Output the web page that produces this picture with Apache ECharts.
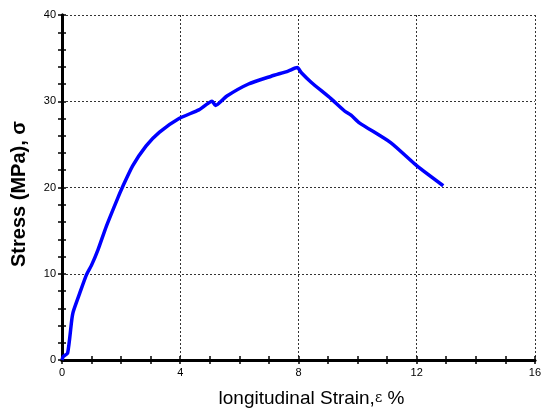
<!DOCTYPE html>
<html><head><meta charset="utf-8">
<script src="https://cdn.jsdelivr.net/npm/echarts@6/dist/echarts.min.js"></script>
<style>html,body{margin:0;padding:0;background:#fff}#c{width:544px;height:415px}</style>
</head><body><div id="c"></div>
<script>
const strain = [0, 0.04, 0.19, 0.33, 0.38, 0.6, 0.83, 1.0, 1.22, 1.5, 1.89, 2.04, 2.39, 2.84, 3.29, 3.96, 4.63, 5.08, 5.19, 5.58, 6.31, 7.08, 7.65, 7.96, 8.1, 8.43, 9.1, 9.55, 9.78, 10.06, 11.12, 12.01, 12.9];
const stress = [0, 0.4, 0.8, 4.65, 5.6, 7.75, 9.9, 11.0, 12.8, 15.5, 18.8, 20.0, 22.5, 24.8, 26.4, 28.0, 29.0, 30.0, 29.5, 30.6, 32.0, 32.9, 33.5, 33.9, 33.3, 32.2, 30.3, 28.9, 28.4, 27.5, 25.2, 22.5, 20.2];
const xTicks = [0, 4, 8, 12, 16];
const yTicks = [0, 10, 20, 30, 40];

const font = 'Liberation Sans, Arial, sans-serif';
const chart = echarts.init(document.getElementById('c'));
const axLine = {show: true, lineStyle: {color: '#000', width: 3}};
const noLine = {show: false};
const tick = {show: true, inside: true, length: 4, lineStyle: {color: '#000', width: 1.5}};
const split = {show: true, lineStyle: {color: '#333', type: [2, 2], width: 1}};
const xMin = xTicks[0], xMax = xTicks[xTicks.length - 1];
const yMin = yTicks[0], yMax = yTicks[yTicks.length - 1];
function tickAxis(pos, min, max, iv) {
  return {type: 'value', position: pos, min: min, max: max, interval: iv, offset: 0,
    axisLine: noLine, axisTick: tick, splitLine: {show: false}, axisLabel: {show: false}};
}
chart.setOption({
  animation: false,
  grid: {left: 62, top: 15, right: 5, bottom: 55},
  xAxis: [{
    type: 'value', position: 'bottom', min: xMin, max: xMax, interval: 4,
    axisLine: axLine, axisTick: {show: false},
    splitLine: split,
    axisLabel: {color: '#000', fontSize: 11, fontFamily: font, margin: 7},
    name: 'longitudinal Strain,{e|ε} %', nameLocation: 'middle', nameGap: 29,
    nameTextStyle: {color: '#000', fontSize: 19, fontFamily: font, padding: [0, 0, 0, 26],
      rich: {e: {fontSize: 14, fontFamily: 'DejaVu Serif, serif', color: '#000'}}}
  }, Object.assign(tickAxis('top', xMin, xMax, 1), {axisLine: axLine}),
     tickAxis('bottom', xMin, xMax, 1)],
  yAxis: [{
    type: 'value', position: 'left', min: yMin, max: yMax, interval: 10,
    axisLine: axLine, axisTick: {show: false},
    splitLine: split,
    axisLabel: {color: '#000', fontSize: 11, fontFamily: font, margin: 6},
    name: 'Stress (MPa), σ', nameLocation: 'middle', nameGap: 33,
    nameTextStyle: {color: '#000', fontSize: 20, fontWeight: 'bold', fontFamily: font, padding: [0, 13, 0, 0]}
  }, Object.assign(tickAxis('right', yMin, yMax, 2), {axisLine: axLine}),
     tickAxis('left', yMin, yMax, 2)],
  series: [{
    type: 'line', xAxisIndex: 0, yAxisIndex: 0,
    data: strain.map((x, i) => [x, stress[i]]),
    showSymbol: false, smooth: 0.2,
    lineStyle: {color: '#0000ff', width: 3.5}
  }]
});
</script></body></html>
